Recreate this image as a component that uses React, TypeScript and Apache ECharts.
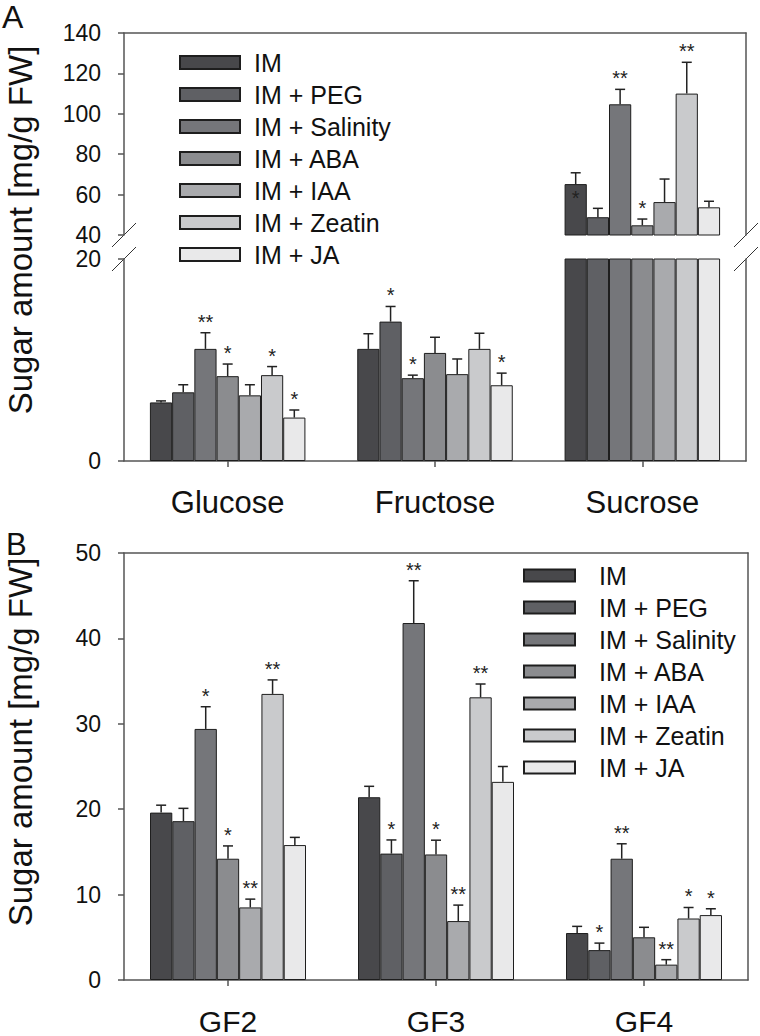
import React, { useEffect, useRef } from "react";
import * as echarts from "echarts";

// ---------- data ----------
const treatments = ["IM", "IM + PEG", "IM + Salinity", "IM + ABA", "IM + IAA", "IM + Zeatin", "IM + JA"];
const colors = ["#48484b", "#5f6064", "#75767a", "#8b8c8f", "#a9aaad", "#c9cacc", "#e9e9ea"];

const categoriesA = ["Glucose", "Fructose", "Sucrose"];
// per treatment: [Glucose, Fructose, Sucrose]
const meansA = [
  [5.8, 11.1, 65.2],
  [6.8, 13.8, 48.8],
  [11.1, 8.2, 104.7],
  [8.4, 10.7, 44.8],
  [6.5, 8.6, 56.3],
  [8.5, 11.1, 110.0],
  [4.3, 7.5, 53.7],
];
const errorsA = [
  [0.15, 1.5, 5.6],
  [0.75, 1.5, 4.4],
  [1.6, 0.3, 7.4],
  [1.2, 1.55, 3.1],
  [1.05, 1.5, 11.4],
  [0.85, 1.55, 15.5],
  [0.75, 1.2, 3.0],
];
const sigA = [
  ["", "", "*"],
  ["", "*", ""],
  ["**", "*", "**"],
  ["*", "", "*"],
  ["", "", ""],
  ["*", "", "**"],
  ["*", "*", ""],
];

const categoriesB = ["GF2", "GF3", "GF4"];
const meansB = [
  [19.6, 21.4, 5.5],
  [18.6, 14.8, 3.5],
  [29.4, 41.8, 14.2],
  [14.2, 14.7, 5.0],
  [8.5, 6.9, 1.8],
  [33.5, 33.1, 7.2],
  [15.8, 23.2, 7.6],
];
const errorsB = [
  [0.87, 1.28, 0.78],
  [1.5, 1.6, 0.82],
  [2.6, 4.95, 1.75],
  [1.5, 1.67, 1.17],
  [0.97, 1.87, 0.58],
  [1.64, 1.56, 1.29],
  [0.9, 1.8, 0.74],
];
const sigB = [
  ["", "", ""],
  ["", "*", "*"],
  ["*", "**", "**"],
  ["*", "*", ""],
  ["**", "**", "**"],
  ["**", "**", "*"],
  ["", "", "*"],
];

// y axis tick settings
const upperA = { min: 40, max: 140, interval: 20 };
const lowerA = { min: 0, max: 20, interval: 20 };
const axisB = { min: 0, max: 50, interval: 10 };

// ---------- layout / style ----------
const FONT = "Liberation Sans, Arial, Helvetica, sans-serif";
const AXIS_COLOR = "#555";
const INK = "#111";
const GAP = 0.25;
const LEFT = 124;
const A_RIGHT = 746;
const B_RIGHT = 748;
const A_TOP = 33;
const A_UP_BOTTOM = 235;
const A_LOW_TOP = 259;
const A_BOTTOM = 461;
const B_TOP = 553;
const B_BOTTOM = 981;

function makeRows(means: number[][], errs: number[][], keep: (m: number, e: number) => boolean) {
  const rows: number[][] = [];
  means.forEach((arr, t) =>
    arr.forEach((m, c) => {
      if (keep(m, errs[t][c])) rows.push([c, t, m, errs[t][c]]);
    })
  );
  return rows;
}

function errRenderer(sig: string[][], inside: number[][]) {
  return (params: any, api: any) => {
    const c = api.value(0);
    const t = api.value(1);
    const m = api.value(2);
    const e = api.value(3);
    const band = api.size([1, 0], [c, m])[0];
    const bw = (band * (1 - GAP)) / treatments.length;
    const base = api.coord([c, m]);
    const cx = base[0] + (t - (treatments.length - 1) / 2) * bw;
    const y0 = base[1];
    const y1 = api.coord([c, m + e])[1];
    const s = sig[t][c];
    const isInside = inside.some((p) => p[0] === c && p[1] === t);
    const children: any[] = [
      { type: "line", shape: { x1: cx, y1: y0, x2: cx, y2: y1 }, style: { stroke: "#222", lineWidth: 1.5 } },
      { type: "line", shape: { x1: cx - 5, y1: y1, x2: cx + 5, y2: y1 }, style: { stroke: "#222", lineWidth: 1.5 } },
    ];
    if (s) {
      children.push({
        type: "text",
        style: {
          text: s,
          x: cx,
          y: isInside ? y0 + 14 : y1 - 11,
          align: "center",
          verticalAlign: "middle",
          fontSize: 20,
          fontFamily: FONT,
          fill: "#222",
        },
      });
    }
    return { type: "group", children };
  };
}

const lineOnly = (gridIndex: number, range: any) => ({
  type: "value",
  gridIndex,
  position: "right",
  ...range,
  axisLine: { show: true, lineStyle: { color: AXIS_COLOR, width: 1.5 } },
  axisTick: { show: false },
  axisLabel: { show: false },
  splitLine: { show: false },
});

const leftAxis = (gridIndex: number, range: any, padding: number[]) => ({
  type: "value",
  gridIndex,
  position: "left",
  ...range,
  axisLine: { show: true, lineStyle: { color: AXIS_COLOR, width: 1.5 } },
  axisTick: { show: true, inside: false, length: 6, lineStyle: { color: AXIS_COLOR, width: 1.5 } },
  axisLabel: { show: true, fontSize: 23, lineHeight: 20, padding, color: INK, margin: 23, fontFamily: FONT },
  splitLine: { show: false },
});

const topLine = (gridIndex: number, data: string[]) => ({
  type: "category",
  gridIndex,
  data,
  position: "top",
  axisLine: { show: true, onZero: false, lineStyle: { color: AXIS_COLOR, width: 1.5 } },
  axisTick: { show: false },
  axisLabel: { show: false },
});

const bottomAxis = (gridIndex: number, data: string[], fontSize: number, lineHeight: number, margin: number) => ({
  type: "category",
  gridIndex,
  data,
  position: "bottom",
  axisLine: { show: true, onZero: false, lineStyle: { color: AXIS_COLOR, width: 1.5 } },
  axisTick: { show: true, alignWithLabel: true, length: 6, lineStyle: { color: AXIS_COLOR, width: 1.5 } },
  axisLabel: { show: true, fontSize, lineHeight, color: INK, margin, fontFamily: FONT },
});

function breakMarks(x: number, y: number) {
  return {
    type: "line",
    shape: { x1: x - 12, y1: y + 12, x2: x + 12, y2: y - 12 },
    style: { stroke: "#333", lineWidth: 1 },
  };
}

export default function App() {
  const ref = useRef<HTMLDivElement>(null);
  useEffect(() => {
    if (!ref.current) return;
    const chart = echarts.init(ref.current, undefined, { renderer: "svg" });

    const barStyle = (t: number) => ({ color: colors[t], borderColor: "#1e1e1e", borderWidth: 1 });
    const series: any[] = [];
    treatments.forEach((name, t) => {
      series.push({
        type: "bar",
        name,
        xAxisIndex: 0,
        yAxisIndex: 0,
        barGap: "0%",
        barCategoryGap: "25%",
        itemStyle: barStyle(t),
        data: meansA[t].map((v) => (v > upperA.min ? v : "-")),
      });
      series.push({
        type: "bar",
        name,
        xAxisIndex: 1,
        yAxisIndex: 2,
        barGap: "0%",
        barCategoryGap: "25%",
        itemStyle: barStyle(t),
        data: meansA[t],
      });
      series.push({
        type: "bar",
        name,
        xAxisIndex: 2,
        yAxisIndex: 4,
        barGap: "0%",
        barCategoryGap: "25%",
        itemStyle: barStyle(t),
        data: meansB[t],
      });
    });
    const inside = [[2, 0]];
    series.push({
      type: "custom",
      name: "errA_up",
      xAxisIndex: 0,
      yAxisIndex: 0,
      encode: { x: 0, y: 2 },
      renderItem: errRenderer(sigA, inside),
      data: makeRows(meansA, errorsA, (m) => m > upperA.min),
      z: 5,
    });
    series.push({
      type: "custom",
      name: "errA_low",
      xAxisIndex: 1,
      yAxisIndex: 2,
      encode: { x: 0, y: 2 },
      renderItem: errRenderer(sigA, []),
      data: makeRows(meansA, errorsA, (m, e) => m + e <= lowerA.max),
      z: 5,
    });
    series.push({
      type: "custom",
      name: "errB",
      xAxisIndex: 2,
      yAxisIndex: 4,
      encode: { x: 0, y: 2 },
      renderItem: errRenderer(sigB, []),
      data: makeRows(meansB, errorsB, () => true),
      z: 5,
    });

    const legendBase = {
      data: treatments,
      orient: "vertical",
      icon: "rect",
      padding: 0,
      selectedMode: false,
      itemGap: 7,
    };

    chart.setOption({
      animation: false,
      backgroundColor: "#fff",
      textStyle: { fontFamily: FONT },
      grid: [
        { left: LEFT, right: 760 - A_RIGHT, top: A_TOP, height: A_UP_BOTTOM - A_TOP },
        { left: LEFT, right: 760 - A_RIGHT, top: A_LOW_TOP, height: A_BOTTOM - A_LOW_TOP },
        { left: LEFT, right: 760 - B_RIGHT, top: B_TOP, height: B_BOTTOM - B_TOP },
      ],
      xAxis: [
        topLine(0, categoriesA),
        bottomAxis(1, categoriesA, 31, 28, 27),
        bottomAxis(2, categoriesB, 30, 26, 28),
        topLine(2, categoriesB),
      ],
      yAxis: [
        leftAxis(0, upperA, [0, 0, 6, 0]),
        lineOnly(0, upperA),
        leftAxis(1, lowerA, [6, 0, 0, 0]),
        lineOnly(1, lowerA),
        leftAxis(2, axisB, [0, 0, 0, 0]),
        lineOnly(2, axisB),
      ],
      legend: [
        {
          ...legendBase,
          left: 179,
          top: 50,
          itemWidth: 60,
          itemHeight: 13,
          textStyle: { fontSize: 25, lineHeight: 25, color: INK, fontFamily: FONT, padding: [0, 0, 0, 9] },
        },
        {
          ...legendBase,
          left: 523,
          top: 563,
          itemWidth: 51,
          itemHeight: 12,
          textStyle: { fontSize: 25, lineHeight: 25, color: INK, fontFamily: FONT, padding: [0, 0, 0, 19] },
        },
      ],
      graphic: [
        {
          type: "text",
          x: 2,
          y: 17,
          style: { text: "A", fontSize: 32, lineHeight: 30, fontFamily: FONT, fill: INK, verticalAlign: "middle", align: "left" },
        },
        {
          type: "text",
          x: 6,
          y: 544,
          style: { text: "B", fontSize: 31, lineHeight: 28, fontFamily: FONT, fill: INK, verticalAlign: "middle", align: "left" },
        },
        {
          type: "text",
          x: 20,
          y: 230,
          rotation: Math.PI / 2,
          style: { text: "Sugar amount [mg/g FW]", fontSize: 33, fontFamily: FONT, fill: INK, align: "center", verticalAlign: "middle" },
        },
        {
          type: "text",
          x: 20,
          y: 742,
          rotation: Math.PI / 2,
          style: { text: "Sugar amount [mg/g FW]", fontSize: 33, fontFamily: FONT, fill: INK, align: "center", verticalAlign: "middle" },
        },
        breakMarks(LEFT, A_UP_BOTTOM),
        breakMarks(LEFT, A_LOW_TOP),
        breakMarks(A_RIGHT, A_UP_BOTTOM),
        breakMarks(A_RIGHT, A_LOW_TOP),
      ],
      series,
    });
    return () => chart.dispose();
  }, []);
  return <div ref={ref} style={{ position: "fixed", left: 0, top: 0, width: 760, height: 1036 }} />;
}
